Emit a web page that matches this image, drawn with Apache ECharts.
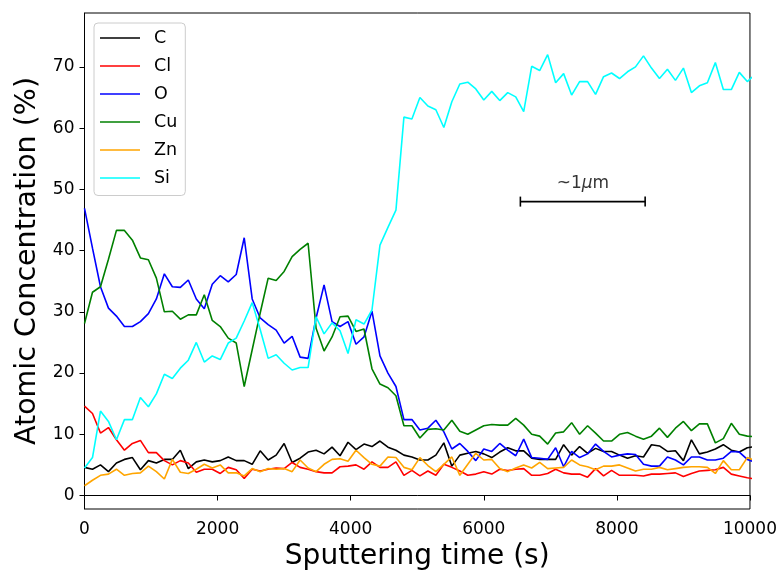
<!DOCTYPE html>
<html>
<head>
<meta charset="utf-8">
<script src="https://cdn.jsdelivr.net/npm/echarts@6/dist/echarts.min.js"></script>
<style>
  html, body { margin: 0; padding: 0; background: #fff; }
  #chart { width: 780px; height: 576px; }
</style>
</head>
<body>
<div id="chart"></div>
<script>
// Depth profile: atomic concentration vs sputtering time
const times = [0,120,240,360,480,600,720,840,960,1080,1200,1320,1440,1560,1680,1800,1920,2040,2160,2280,
  2400,2520,2640,2760,2880,3000,3120,3240,3360,3480,3600,3720,3840,3960,4080,4200,4320,4440,4560,4680,
  4800,4920,5040,5160,5280,5400,5520,5640,5760,5880,6000,6120,6240,6360,6480,6600,6720,6840,6960,7080,
  7200,7320,7440,7560,7680,7800,7920,8040,8160,8280,8400,8520,8640,8760,8880,9000,9120,9240,9360,9480,
  9600,9720,9840,9960,10080];

const carbon = [4.6,4.3,5.0,3.9,5.3,5.9,6.2,4.2,5.7,5.3,5.9,5.9,7.4,4.4,5.5,5.8,5.5,5.7,6.3,5.7,
  5.7,5.1,7.3,5.8,6.6,8.5,5.4,6.1,7.1,7.4,6.8,7.9,6.5,8.7,7.5,8.4,8.0,8.9,7.9,7.4,
  6.6,6.3,5.8,5.8,6.6,8.6,4.8,6.6,6.9,7.2,6.8,6.2,7.1,7.8,7.3,7.3,6.1,5.9,5.9,5.9,
  8.3,6.6,8.0,6.9,7.7,7.2,7.2,6.6,6.1,6.5,6.3,8.3,8.1,7.2,7.3,5.7,9.1,6.8,7.1,7.6,
  8.3,7.4,7.1,7.8,8.0];

const chlorine = [14.6,13.4,10.2,11.1,9.1,7.4,8.5,9.0,7.0,7.0,5.7,5.0,5.7,5.3,3.8,4.3,4.3,3.6,4.6,4.2,
  2.8,4.3,4.0,4.3,4.5,4.4,5.4,4.6,4.3,3.9,3.7,3.7,4.7,4.8,5.0,4.3,5.5,4.6,4.6,5.5,
  3.3,4.1,3.2,4.0,3.3,5.1,4.6,4.0,3.3,3.5,3.9,3.5,4.3,4.1,4.3,4.4,3.3,3.3,3.6,4.3,
  3.7,3.5,3.5,3.0,4.4,3.2,4.1,3.3,3.3,3.3,3.2,3.5,3.5,3.6,3.7,3.1,3.6,4.0,4.1,4.2,
  4.6,3.5,3.2,2.9,2.7];

const oxygen = [46.9,40.4,34.1,30.6,29.3,27.6,27.6,28.4,29.7,32.1,36.2,34.1,34.0,35.2,32.1,30.5,34.5,35.9,34.9,36.1,
  42.1,32.1,29.0,27.9,27.0,24.9,26.0,22.6,22.4,29.0,34.4,28.4,27.6,28.4,24.7,25.9,30.1,22.8,20.0,17.8,
  12.4,12.4,10.7,11.0,12.3,10.4,7.6,8.5,7.2,5.7,7.6,7.2,8.5,7.4,6.5,9.2,6.2,6.1,5.9,7.8,
  4.7,7.2,6.2,6.8,8.4,7.2,6.3,6.6,6.8,6.7,5.1,4.8,4.8,6.3,5.8,5.0,6.3,6.3,5.8,5.8,
  6.1,7.2,7.1,5.9,5.4];

const copper = [28.1,33.2,34.1,38.6,43.3,43.3,41.7,38.8,38.5,35.5,30.0,30.1,28.8,29.5,29.5,32.8,28.6,27.6,25.7,24.9,
  17.8,23.8,29.8,35.5,35.1,36.6,39.0,40.2,41.2,27.3,23.6,25.9,29.2,29.3,26.8,27.2,20.7,18.2,17.6,16.3,
  11.4,11.4,9.4,10.8,10.9,10.7,12.3,10.5,10.0,10.7,11.4,11.6,11.5,11.5,12.6,11.5,10.0,9.7,8.4,10.2,
  10.4,11.9,10.0,11.4,10.2,8.9,8.9,10.0,10.3,9.7,9.2,9.7,11.0,9.5,11.0,12.1,10.6,11.7,11.7,8.6,
  9.3,11.8,10.0,9.7,9.6];

const zinc = [1.6,2.5,3.3,3.5,4.3,3.3,3.6,3.7,4.8,3.9,2.7,5.9,3.8,3.6,4.3,5.1,4.5,5.0,3.7,3.7,
  3.2,4.4,3.9,4.4,4.3,4.4,3.9,5.8,4.5,3.9,5.1,5.9,6.0,5.6,7.4,6.2,5.1,4.8,6.3,6.2,
  4.6,4.2,6.2,4.9,3.9,5.1,6.3,3.3,5.1,6.9,5.8,5.9,4.4,3.9,4.5,5.0,4.5,5.4,4.4,4.5,
  4.6,5.8,5.0,4.7,4.2,4.8,4.8,5.0,4.5,4.0,4.3,4.3,4.6,4.2,4.4,4.6,4.7,4.7,4.6,3.6,
  5.7,4.2,4.2,6.2,5.7];

const silicon = [4.5,6.2,13.8,12.1,9.1,12.4,12.4,16.0,14.5,16.6,19.8,19.1,20.8,22.1,25.0,21.8,22.8,22.2,24.9,25.7,
  28.5,31.5,27.1,22.4,23.0,21.6,20.5,20.9,20.9,29.2,26.4,28.2,26.9,23.2,28.7,28.0,30.3,40.9,43.8,46.6,
  61.8,61.5,65.0,63.6,63.0,60.1,64.3,67.2,67.5,66.4,64.6,66.0,64.5,65.8,65.1,62.7,70.1,69.4,72.0,67.4,
  68.9,65.4,67.6,67.6,65.5,68.4,69.0,68.1,69.2,70.0,71.8,69.8,68.1,69.6,67.8,69.8,65.8,66.9,67.4,70.7,
  66.3,66.3,69.1,67.6,68.8];

const seriesNames = ['C', 'Cl', 'O', 'Cu', 'Zn', 'Si'];
const seriesValues = [carbon, chlorine, oxygen, copper, zinc, silicon];
const seriesColors = ['#000000', '#ff0000', '#0000ff', '#008000', '#ffa500', '#00ffff'];

const xTicks = [0, 2000, 4000, 6000, 8000, 10000];
const yTicks = [0, 10, 20, 30, 40, 50, 60, 70];

// Length scale bar (~1 µm) drawn in data coordinates
const scaleBarStart = 6550;
const scaleBarEnd = 8425;
const scaleBarLevel = 48.0;
const scaleLabelPos = [7490, 50.9];

const FONT = 'DejaVu Sans';

const lineSeries = seriesNames.map((name, k) => ({
  name: name,
  type: 'line',
  data: times.map((t, i) => [t, seriesValues[k][i]]),
  symbol: 'none',
  showSymbol: false,
  clip: true,
  lineStyle: { color: seriesColors[k], width: 1.6 },
  itemStyle: { color: seriesColors[k] },
  emphasis: { disabled: true },
  animation: false
}));

const chart = echarts.init(document.getElementById('chart'), null, { renderer: 'canvas' });

chart.setOption({
  backgroundColor: '#ffffff',
  animation: false,
  grid: {
    left: 84.5, right: 29, top: 13, bottom: 67,
    show: true, borderColor: '#000', borderWidth: 1, backgroundColor: 'transparent'
  },
  legend: {
    data: seriesNames,
    orient: 'vertical',
    left: 94, top: 23,
    padding: [5.5, 8, 8, 6],
    icon: 'rect',
    itemWidth: 40, itemHeight: 1.6, itemGap: 9,
    backgroundColor: 'rgba(255,255,255,0.8)',
    borderColor: '#cccccc', borderWidth: 1, borderRadius: 4,
    textStyle: { fontFamily: FONT, fontSize: 17.5, color: '#000', lineHeight: 17, height: 17, padding: [2, 0, 0, 9] },
    selectedMode: false
  },
  xAxis: {
    type: 'value', min: 0, max: 10000, interval: 2000,
    name: 'Sputtering time (s)', nameLocation: 'middle', nameGap: 34,
    nameTextStyle: { fontFamily: FONT, fontSize: 28, color: '#000' },
    axisLine: { show: true, lineStyle: { color: '#000', width: 1 } },
    axisTick: { show: true, inside: false, length: 5, lineStyle: { color: '#000', width: 1 } },
    axisLabel: { fontFamily: FONT, fontSize: 17, color: '#000', margin: 12,
      customValues: xTicks, formatter: v => String(v) },
    splitLine: { show: false }
  },
  yAxis: {
    type: 'value', min: -2.2, max: 78.8,
    name: 'Atomic Concentration (%)', nameLocation: 'middle', nameGap: 38,
    nameTextStyle: { fontFamily: FONT, fontSize: 28.5, color: '#000' },
    axisLine: { show: true, lineStyle: { color: '#000', width: 1 } },
    axisTick: { show: true, inside: false, length: 5, customValues: yTicks, lineStyle: { color: '#000', width: 1 } },
    axisLabel: { fontFamily: FONT, fontSize: 17, color: '#000', margin: 10, customValues: yTicks },
    splitLine: { show: false }
  },
  series: lineSeries.concat([
    {
      name: 'scaleBar',
      type: 'line',
      data: [[scaleBarStart, scaleBarLevel], [scaleBarEnd, scaleBarLevel]],
      symbol: 'rect', symbolSize: [1.6, 10], showSymbol: true,
      lineStyle: { color: '#000', width: 1.6 },
      itemStyle: { color: '#000' },
      silent: true, z: 5, animation: false
    },
    {
      name: 'scaleLabel',
      type: 'scatter',
      data: [scaleLabelPos],
      symbolSize: 0,
      silent: true, z: 5,
      label: {
        show: true, position: 'inside',
        formatter: '~1{i|μ}m',
        fontFamily: FONT, fontSize: 17, color: '#000',
        rich: { i: { fontFamily: FONT, fontSize: 17, fontStyle: 'italic', color: '#000' } }
      }
    }
  ])
});
</script>
</body>
</html>
